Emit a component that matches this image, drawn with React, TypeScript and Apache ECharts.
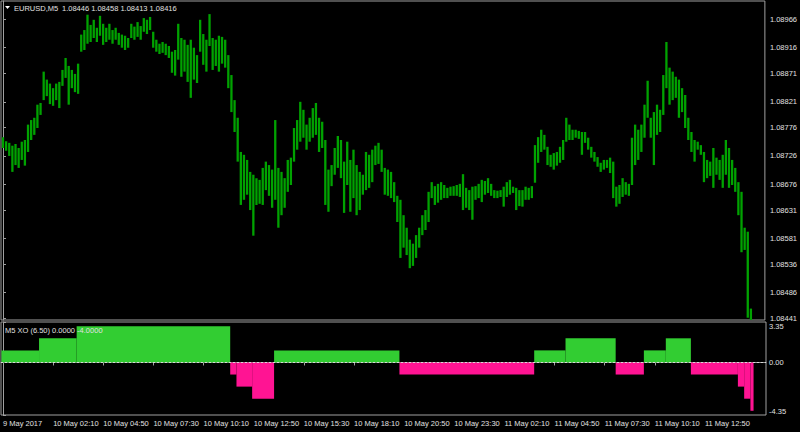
import React, { useEffect, useRef } from "react";
import * as echarts from "echarts";

const symbolTitle = "EURUSD,M5";
const lastBarOHLC = [1.08446, 1.08458, 1.08413, 1.08416];
const indicatorTitle = "M5 XO (6.50) 0.0000 -4.0000";

const barHighs = [
  1.08759, 1.08752, 1.08749, 1.08744, 1.08747, 1.0874, 1.08751, 1.08754, 1.08781, 1.08789,
  1.08793, 1.08816, 1.08819, 1.08874, 1.0886, 1.08853, 1.08845, 1.08853, 1.08856, 1.08877,
  1.08898, 1.08884, 1.08877, 1.0887, 1.08888, 1.08939, 1.08947, 1.08974, 1.08956, 1.08965,
  1.08951, 1.08972, 1.08958, 1.08951, 1.08958, 1.08947, 1.08951, 1.08942, 1.08939, 1.08937,
  1.08933, 1.08958, 1.08953, 1.08961, 1.08954, 1.08968, 1.08965, 1.0897, 1.08944, 1.0893,
  1.08923, 1.08926, 1.08923, 1.08919, 1.08909, 1.08912, 1.08958, 1.08933, 1.0893, 1.08921,
  1.0893, 1.08916, 1.08903, 1.08965, 1.0894, 1.0893, 1.08975, 1.08933, 1.0893, 1.08937,
  1.08935, 1.0893, 1.08903, 1.08868, 1.08824, 1.08793, 1.08733, 1.08728, 1.08719, 1.08698,
  1.08693, 1.08687, 1.08684, 1.08705, 1.08716, 1.0871, 1.08702, 1.08789, 1.08705, 1.08698,
  1.08687, 1.08719, 1.08723, 1.08775, 1.08789, 1.08821, 1.08807, 1.08781, 1.08793, 1.0881,
  1.08819, 1.08793, 1.08786, 1.08754, 1.08702, 1.0871, 1.0874, 1.08761, 1.08754, 1.08716,
  1.08751, 1.08719, 1.08737, 1.0871, 1.08698, 1.08693, 1.08733, 1.08728, 1.08737, 1.08744,
  1.08749, 1.08737, 1.08705, 1.08702, 1.08698, 1.0868, 1.08656, 1.08649, 1.08622, 1.086,
  1.08579, 1.08572, 1.08587, 1.086, 1.08622, 1.08631, 1.08663, 1.0868, 1.08673, 1.08677,
  1.0868, 1.08675, 1.0867, 1.08672, 1.08673, 1.08675, 1.08677, 1.08694, 1.0867, 1.08666,
  1.08672, 1.08673, 1.08677, 1.08684, 1.08682, 1.08687, 1.08677, 1.08666, 1.08665, 1.08666,
  1.08672, 1.0868, 1.08684, 1.08672, 1.0867, 1.08666, 1.08666, 1.08672, 1.0867, 1.08673,
  1.08745, 1.08759, 1.08772, 1.08763, 1.08742, 1.08728, 1.08731, 1.08733, 1.08742, 1.08754,
  1.08793, 1.08781, 1.08772, 1.08772, 1.0877, 1.08768, 1.08768, 1.08758, 1.08742, 1.08733,
  1.08724, 1.08714, 1.08719, 1.08719, 1.08723, 1.08716, 1.08672, 1.08675, 1.08687, 1.0868,
  1.08677, 1.08758, 1.08781, 1.08772, 1.08781, 1.08816, 1.08858, 1.08793, 1.08803, 1.08816,
  1.08807, 1.08868, 1.08926, 1.08881, 1.08874, 1.08865, 1.0886, 1.08845, 1.08833, 1.08793,
  1.08768, 1.08754, 1.08751, 1.08745, 1.08733, 1.08719, 1.08716, 1.0874, 1.08723, 1.08719,
  1.08728, 1.08754, 1.0874, 1.08719, 1.08705, 1.0868, 1.08663, 1.086, 1.08593, 1.08458,
];

const barLows = [
  1.0874, 1.08735, 1.08726, 1.08698, 1.0871, 1.08705, 1.08719, 1.08709, 1.08733, 1.08754,
  1.08763, 1.08775, 1.08798, 1.08824, 1.08831, 1.08817, 1.08814, 1.08824, 1.0881, 1.08849,
  1.08863, 1.08816, 1.08845, 1.08838, 1.08835, 1.08909, 1.08912, 1.08923, 1.08926, 1.08933,
  1.08926, 1.08937, 1.08921, 1.08926, 1.0893, 1.08923, 1.0893, 1.08921, 1.08916, 1.08912,
  1.08916, 1.08933, 1.0893, 1.08935, 1.0893, 1.08944, 1.0894, 1.08947, 1.08916, 1.08909,
  1.08905, 1.08907, 1.08903, 1.08898, 1.08872, 1.08867, 1.08895, 1.08865, 1.08874, 1.08856,
  1.08828, 1.0886, 1.08854, 1.08909, 1.08886, 1.08874, 1.08919, 1.08877, 1.08884, 1.08874,
  1.08888, 1.08881, 1.08845, 1.08803, 1.08768, 1.08716, 1.0864, 1.08649, 1.08658, 1.08631,
  1.08586, 1.0864, 1.08642, 1.0864, 1.08666, 1.08656, 1.08635, 1.08649, 1.086, 1.08622,
  1.08635, 1.08663, 1.08675, 1.08716, 1.08737, 1.08751, 1.08758, 1.08737, 1.08751, 1.08758,
  1.08763, 1.08733, 1.0874, 1.0864, 1.08628, 1.08673, 1.08693, 1.08705, 1.08687, 1.08626,
  1.08675, 1.08628, 1.08652, 1.08622, 1.08631, 1.08658, 1.08666, 1.0867, 1.0868, 1.0871,
  1.08712, 1.08698, 1.08658, 1.08656, 1.08652, 1.08645, 1.0861, 1.08547, 1.08565, 1.08552,
  1.08529, 1.08533, 1.08547, 1.08565, 1.08587, 1.08596, 1.0861, 1.08652, 1.0864, 1.08644,
  1.08649, 1.08652, 1.08652, 1.08656, 1.08656, 1.08656, 1.08654, 1.08631, 1.08635, 1.08631,
  1.08614, 1.08649, 1.08652, 1.08645, 1.08658, 1.08661, 1.08656, 1.08652, 1.08652, 1.08654,
  1.08637, 1.08654, 1.08658, 1.08661, 1.08631, 1.08638, 1.08637, 1.08649, 1.08649, 1.08652,
  1.08679, 1.08714, 1.08733, 1.08737, 1.0871, 1.08707, 1.08702, 1.08709, 1.08714, 1.08719,
  1.08751, 1.08754, 1.08754, 1.08758, 1.08756, 1.08728, 1.08749, 1.08737, 1.08723, 1.08716,
  1.08707, 1.08698, 1.08702, 1.08705, 1.08696, 1.08652, 1.08637, 1.08642, 1.08654, 1.08658,
  1.08656, 1.08675, 1.0871, 1.08719, 1.08733, 1.08758, 1.08793, 1.08758, 1.0871, 1.08763,
  1.08768, 1.08798, 1.08845, 1.08816, 1.08824, 1.08828, 1.08793, 1.08803, 1.08775, 1.08754,
  1.08733, 1.08716, 1.08737, 1.08728, 1.0868, 1.08687, 1.08691, 1.0867, 1.08693, 1.08684,
  1.0867, 1.08693, 1.0867, 1.08675, 1.08663, 1.08622, 1.08557, 1.08561, 1.08442, 1.08413,
];

const priceTicks = [
  1.08966, 1.08916, 1.08871, 1.08821, 1.08776, 1.08726, 1.08676, 1.08631, 1.08581, 1.08536,
  1.08486, 1.08441,
];

// XO indicator, run-length: level and number of bars at that level
const xoLevels = [1, 2, 3, -1, -2, -3, 1, -1, 1, 2, -1, 1, 2, -1, -2, -3, -4];
const xoLengths = [12, 12, 49, 2, 5, 7, 40, 43, 10, 16, 9, 7, 8, 15, 2, 2, 1];
const xoTicks = [-4.35, 0, 3.35];

const timeLabels = [
  "9 May 2017", "10 May 02:10", "10 May 04:50", "10 May 07:30", "10 May 10:10",
  "10 May 12:50", "10 May 15:30", "10 May 18:10", "10 May 20:50", "10 May 23:30",
  "11 May 02:10", "11 May 04:50", "11 May 07:30", "11 May 10:10", "11 May 12:50",
];
const barsPerLabel = 16;

const FONT = "Liberation Sans";
const TEXT = "#e0e0e0";
const FRAME = "#a0a0a0";

export default function App() {
  const ref = useRef<HTMLDivElement>(null);

  useEffect(() => {
    if (!ref.current) return;
    const chart = echarts.init(ref.current, undefined, { renderer: "svg" });

    const priceData = barHighs.map((h, i) => [i, barLows[i], h]);
    let start = 0;
    const xoData = xoLengths.map((n, k) => {
      const s = start;
      start += n;
      return [s - 0.5, s + n - 0.5, xoLevels[k]];
    });
    const labelIdx = timeLabels.map((_, k) => k * barsPerLabel);
    const xMin = -0.638;
    const xMax = 243.47;

    const option: any = {
      animation: false,
      backgroundColor: "#000000",
      grid: [
        { left: 1, top: 1, width: 765, height: 319, show: true, borderColor: FRAME, borderWidth: 1, backgroundColor: "transparent" },
        { left: 1, top: 322, width: 765, height: 93, show: true, borderColor: FRAME, borderWidth: 1, backgroundColor: "transparent" },
      ],
      xAxis: [
        { gridIndex: 0, type: "value", min: xMin, max: xMax, show: false },
        {
          gridIndex: 1, type: "value", min: xMin, max: xMax,
          axisLine: { show: true, lineStyle: { color: FRAME } },
          axisTick: { show: true, customValues: labelIdx, length: 3, lineStyle: { color: FRAME } },
          axisLabel: {
            customValues: labelIdx,
            formatter: (v: number) => timeLabels[Math.round(v / barsPerLabel)] ?? "",
            align: "left", color: TEXT, fontSize: 7.5, fontFamily: FONT, margin: 4,
          },
          splitLine: { show: false },
        },
      ],
      yAxis: [
        {
          gridIndex: 0, type: "value", position: "right", min: 1.08438, max: 1.08998,
          axisLine: { show: true, lineStyle: { color: FRAME } },
          axisTick: { show: true, customValues: priceTicks, length: 3, lineStyle: { color: FRAME } },
          axisLabel: {
            customValues: priceTicks,
            formatter: (v: number) => v.toFixed(5),
            color: TEXT, fontSize: 7.5, fontFamily: FONT, margin: 5,
          },
          splitLine: { show: false },
        },
        {
          gridIndex: 1, type: "value", position: "right", min: -4.35, max: 3.35,
          axisLine: { show: true, lineStyle: { color: FRAME } },
          axisTick: { show: true, customValues: xoTicks, length: 3, lineStyle: { color: FRAME } },
          axisLabel: {
            customValues: xoTicks,
            formatter: (v: number) => v.toFixed(2),
            color: TEXT, fontSize: 7.5, fontFamily: FONT, margin: 3,
            verticalAlignMinLabel: "bottom", verticalAlignMaxLabel: "top",
          },
          splitLine: { show: false },
        },
      ],
      graphic: [
        { type: "polygon", shape: { points: [[5, 6], [10, 6], [7.5, 9]] }, style: { fill: "#ffffff" } },
        { type: "text", x: 14, y: 8, style: { text: symbolTitle, fill: TEXT, font: `7.5px "${FONT}"`, verticalAlign: "middle" } },
        { type: "text", x: 62, y: 8, style: { text: lastBarOHLC.map((v) => v.toFixed(5)).join(" "), fill: TEXT, font: `7.5px "${FONT}"`, verticalAlign: "middle" } },
        { type: "text", x: 5, y: 330, z: 100, style: { text: indicatorTitle, fill: TEXT, font: `7.5px "${FONT}"`, verticalAlign: "middle" } },
      ],
      series: [
        {
          type: "custom",
          xAxisIndex: 0,
          yAxisIndex: 0,
          encode: { x: 0, y: [1, 2] },
          data: priceData,
          renderItem: (params: any, api: any) => {
            const i = api.value(0);
            const lo = api.coord([i, api.value(1)]);
            const hi = api.coord([i, api.value(2)]);
            const rect = echarts.graphic.clipRectByRect(
              { x: lo[0] - 1.15, y: hi[1], width: 2.3, height: Math.max(1, lo[1] - hi[1]) },
              { x: params.coordSys.x, y: params.coordSys.y, width: params.coordSys.width, height: params.coordSys.height }
            );
            if (!rect) return null;
            return { type: "rect", shape: rect, style: { fill: "#00a200" } };
          },
        },
        {
          type: "custom",
          xAxisIndex: 1,
          yAxisIndex: 1,
          encode: { x: [0, 1], y: 2 },
          data: xoData,
          renderItem: (params: any, api: any) => {
            const lvl = api.value(2);
            const p0 = api.coord([api.value(0), lvl]);
            const p1 = api.coord([api.value(1), 0]);
            return {
              type: "rect",
              shape: { x: p0[0], y: Math.min(p0[1], p1[1]), width: p1[0] - p0[0], height: Math.abs(p1[1] - p0[1]) },
              style: { fill: lvl > 0 ? "#32cd32" : "#ff1493" },
            };
          },
          markLine: {
            silent: true,
            symbol: "none",
            label: { show: false },
            lineStyle: { color: "#d8d8d8", type: [2, 2], width: 1 },
            data: [{ yAxis: 0 }],
          },
          z: 3,
        },
      ],
    };

    chart.setOption(option);
    return () => chart.dispose();
  }, []);

  return (
    <div style={{ position: "fixed", left: 0, top: 0, width: 800, height: 432, background: "#000" }}>
      <div ref={ref} style={{ width: 800, height: 432 }} />
    </div>
  );
}
